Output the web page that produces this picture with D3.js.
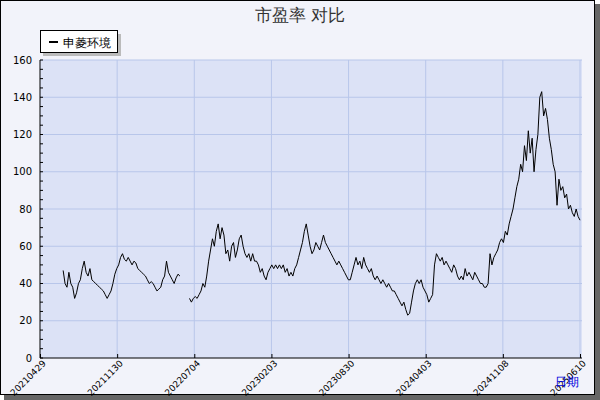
<!DOCTYPE html>
<html>
<head>
<meta charset="utf-8">
<script src="https://d3js.org/d3.v7.min.js"></script>
<style>
body { margin: 0; background: #fff; }
text { font-family: "DejaVu Sans", sans-serif; }
</style>
</head>
<body>
<svg id="root" width="600" height="400"></svg>
<script>
// tick positions (trading day index) and labels
let tickDays = [0, 150, 300, 450, 600, 750, 900, 1050]
let tickLabels = ['20210429', '20211130', '20220704', '20230203', '20230830', '20240403', '20241108', '20250610']
let yTicks = [0, 20, 40, 60, 80, 100, 120, 140, 160]
let seriesName = '申菱环境'
let startDay = 45, endDay = 1050
// PE values, roughly evenly spaced in time, null = no data
let pe = [
	47, 40, 38, 46, 40, 38, 32, 35, 40, 42, 48, 52, 46, 44, 48, 42, 41, 40, 39, 38,
	37, 36, 34, 32, 34, 36, 40, 45, 48, 50, 54, 56, 53, 52, 54, 52, 50, 52, 51, 48,
	47, 46, 45, 44, 42, 40, 41, 40, 38, 36, 37, 38, 42, 44, 52, 46, 44, 42, 40, 43,
	45, 44, null, null, null, null, 32, 30, 32, 33, 32, 34, 36, 40, 38, 44, 52, 58,
	64, 60, 68, 72, 64, 70, 66, 56, 58, 52, 60, 62, 54, 58, 64, 66, 60, 56, 54, 56,
	52, 56, 52, 52, 50, 46, 48, 44, 42, 46, 48, 50, 48, 50, 48, 50, 48, 50, 46, 48,
	44, 46, 44, 48, 50, 54, 58, 62, 68, 72, 66, 60, 56, 58, 62, 60, 58, 62, 66, 62,
	60, 58, 56, 54, 52, 50, 52, 50, 48, 46, 44, 42, 42, 46, 50, 54, 50, 52, 48, 54,
	50, 48, 46, 48, 44, 42, 44, 42, 40, 42, 40, 38, 40, 38, 36, 36, 34, 32, 30, 28,
	30, 26, 23, 24, 30, 36, 40, 42, 40, 42, 38, 36, 34, 30, 32, 34, 50, 56, 54, 52,
	54, 50, 52, 50, 48, 46, 50, 48, 44, 42, 44, 42, 48, 44, 46, 44, 42, 46, 44, 42,
	40, 40, 38, 38, 40, 56, 50, 54, 56, 58, 62, 64, 62, 68, 66, 72, 76, 80, 86, 92,
	96, 104, 100, 114, 106, 122, 110, 118, 100, 112, 120, 140, 143, 130, 134, 128, 118, 112, 104, 100,
	82, 96, 90, 92, 86, 88, 80, 82, 78, 76, 80, 76, 74
]

let svg = d3.select('#root')
// frame with shadow
svg.append('rect').attr('x', 4).attr('y', 4).attr('width', 596).attr('height', 396).attr('fill', '#666')
svg.append('rect').attr('x', 0.5).attr('y', 0.5).attr('width', 594).attr('height', 394)
	.attr('fill', '#f2f3fa').attr('stroke', '#000')

let x = d3.scaleLinear().domain([0, 1050]).range([40, 580])
let y = d3.scaleLinear().domain([0, 160]).range([358, 60])

svg.append('rect').attr('x', 40).attr('y', 60).attr('width', 542).attr('height', 298).attr('fill', '#dce2f6')

// grid
svg.selectAll('.vg').data(tickDays.slice(1)).enter().append('line')
	.attr('x1', d => x(d)).attr('x2', d => x(d)).attr('y1', 60).attr('y2', 358)
	.attr('stroke', '#b8c6ea')
svg.selectAll('.hg').data(yTicks.slice(1)).enter().append('line')
	.attr('x1', 40).attr('x2', 582).attr('y1', d => y(d)).attr('y2', d => y(d))
	.attr('stroke', '#b8c6ea')

// axes
let yAxis = svg.append('g').attr('transform', 'translate(40,0)')
	.call(d3.axisLeft(y).tickValues(yTicks).tickSize(0).tickPadding(8))
yAxis.select('.domain').remove()
yAxis.selectAll('text').attr('font-size', 10).attr('fill', '#000')
svg.append('line').attr('x1', 40).attr('x2', 40).attr('y1', 60).attr('y2', 358).attr('stroke', '#000')
svg.selectAll('.ymt').data(d3.range(0, 161, 5)).enter().append('line')
	.attr('x1', 40).attr('x2', 43).attr('y1', d => y(d)).attr('y2', d => y(d)).attr('stroke', '#000')

let xAxis = svg.append('g').attr('transform', 'translate(0,358)')
	.call(d3.axisBottom(x).tickValues(tickDays).tickFormat((d, i) => tickLabels[i]).tickSize(-4))
xAxis.select('.domain').attr('d', 'M40,0H582')
xAxis.selectAll('text').attr('font-size', 9).attr('fill', '#000')
	.attr('text-anchor', 'end').attr('y', 0).attr('dy', 0)
	.attr('transform', 'translate(6,6) rotate(-45)')

// series
let step = (endDay - startDay) / (pe.length - 1)
let line = d3.line().defined(d => d != null)
	.x((d, i) => x(startDay + i * step)).y(d => y(d))
svg.append('path').datum(pe).attr('d', line).attr('fill', 'none').attr('stroke', '#000').attr('stroke-width', 1)

// title
svg.append('text').attr('x', 300).attr('y', 21).attr('text-anchor', 'middle')
	.attr('font-size', 17).attr('fill', '#333').text('市盈率  对比')

// legend
svg.append('rect').attr('x', 43).attr('y', 34).attr('width', 78).attr('height', 22).attr('fill', '#bbb')
svg.append('rect').attr('x', 40.5).attr('y', 30.5).attr('width', 77).attr('height', 22).attr('fill', '#fff').attr('stroke', '#000')
svg.append('line').attr('x1', 49).attr('x2', 58).attr('y1', 42).attr('y2', 42).attr('stroke', '#000').attr('stroke-width', 2)
svg.append('text').attr('x', 63).attr('y', 47).attr('font-size', 12).text(seriesName)

svg.append('text').attr('x', 555).attr('y', 386).attr('font-size', 12).attr('fill', '#0000dd').text('日期')
</script>
</body>
</html>
